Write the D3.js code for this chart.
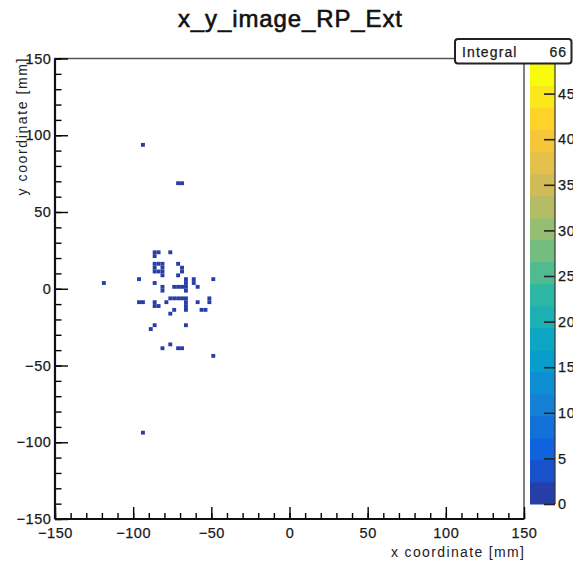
<!DOCTYPE html>
<html><head><meta charset="utf-8">
<script src="https://cdn.jsdelivr.net/npm/d3@7"></script>
<style>
body{margin:0;background:#fff}
svg{display:block}
text{font-family:"Liberation Sans",Arial,Helvetica,sans-serif}
</style>
</head><body>
<svg id="c" width="573" height="565"></svg>
<script>
// ---- data ----
const chartTitle = "x_y_image_RP_Ext";
const xTitle = "x coordinate [mm]";
const yTitle = "y coordinate [mm]";
const binWidth = 2.5;               // mm, 120 bins over [-150,150]
const axisRange = [-150, 150];
const majorTicks = [-150, -100, -50, 0, 50, 100, 150];
const minorTicks = d3.range(-150, 151, 10);
const zTicks = [0, 5, 10, 15, 20, 25, 30, 35, 40, 45];
const zMax = 48.3;
const nContours = 20;
const statsLabel = "Integral";
const statsValue = "66";

// bin centres (mm) of the filled cells
const cellX = [-86.25,-83.75,-86.25,-76.25,
  -86.25,-83.75,-81.25,-86.25,-81.25,-86.25,-83.75,-81.25,-81.25,
  -71.25,-68.75,-68.75,-71.25,
  -118.75,-96.25,
  -86.25,-81.25,-81.25,
  -66.25,-66.25,-73.75,-71.25,-68.75,-66.25,-66.25,
  -61.25,-61.25,-58.75,-48.75,
  -96.25,-93.75,
  -86.25,-86.25,-83.75,-78.75,
  -76.25,-73.75,-71.25,-68.75,
  -66.25,-66.25,-66.25,-66.25,
  -58.75,-51.25,-51.25,-56.25,-53.75,
  -73.75,-76.25,-86.25,-88.75,-66.25,
  -81.25,-76.25,-71.25,-68.75,-48.75,
  -93.75,-71.25,-68.75,-93.75];
const cellY = [23.75,23.75,21.25,23.75,
  16.25,16.25,16.25,13.75,13.75,11.25,11.25,11.25,8.75,
  16.25,13.75,11.25,8.75,
  3.75,6.25,
  3.75,1.25,-1.25,
  6.25,3.75,1.25,1.25,1.25,1.25,-1.25,
  6.25,3.75,1.25,6.25,
  -8.75,-8.75,
  -8.75,-11.25,-11.25,-8.75,
  -6.25,-6.25,-6.25,-6.25,
  -6.25,-8.75,-11.25,-13.75,
  -8.75,-6.25,-8.75,-13.75,-13.75,
  -13.75,-16.25,-23.75,-26.25,-23.75,
  -38.75,-36.25,-38.75,-38.75,-43.75,
  93.75,68.75,68.75,-93.75];
const cellCount = cellX.map(() => 1);

// ---- kBird palette (ROOT) ----
const pStops = [0, .125, .25, .375, .5, .625, .75, .875, 1];
const pR = [0.2082,0.0592,0.0780,0.0232,0.1802,0.5301,0.8186,0.9956,0.9764];
const pG = [0.1664,0.3599,0.5041,0.6419,0.7178,0.7492,0.7328,0.7862,0.9832];
const pB = [0.5293,0.8684,0.8385,0.7914,0.6425,0.4662,0.3499,0.1968,0.0539];
const palR = d3.scaleLinear(pStops, pR), palG = d3.scaleLinear(pStops, pG), palB = d3.scaleLinear(pStops, pB);
function bandColor(i){
  const idx = Math.floor((i + 0.99) * 255 / nContours);
  const t = Math.min(1, idx / 254);
  return d3.rgb(palR(t)*255, palG(t)*255, palB(t)*255).formatHex();
}
function valueColor(v){
  let i = Math.floor(v / zMax * nContours);
  i = Math.max(0, Math.min(nContours - 1, i));
  return bandColor(i);
}

// ---- layout ----
const svg = d3.select("#c");
const X0 = 55, X1 = 524, Y0 = 519, Y1 = 58.5;
const xs = d3.scaleLinear(axisRange, [X0, X1]);
const ys = d3.scaleLinear(axisRange, [Y0, Y1]);
const fontF = '"Liberation Sans",Arial,Helvetica,sans-serif';

// cells
svg.append("g").selectAll("rect").data(cellX.map((x,i)=>({x, y: cellY[i], c: cellCount[i]})))
  .join("rect")
  .attr("x", d => xs(d.x - binWidth/2))
  .attr("width", d => xs(d.x + binWidth/2) - xs(d.x - binWidth/2))
  .attr("y", d => ys(d.y + binWidth/2))
  .attr("height", d => ys(d.y - binWidth/2) - ys(d.y + binWidth/2))
  .attr("fill", d => valueColor(d.c));

// frame
svg.append("rect").attr("x", X0).attr("y", Y1).attr("width", X1 - X0).attr("height", Y0 - Y1)
  .attr("fill", "none").attr("stroke", "#555").attr("stroke-width", 1.5);

function styleAxis(g, size){
  g.select(".domain").remove();
  g.selectAll("line").attr("stroke", "#000").attr("stroke-width", 1.4);
  g.attr("font-family", fontF).attr("font-size", size);
  g.selectAll("text").attr("fill", "#1a1a1a").attr("letter-spacing", "0.6px")
    .attr("stroke", "#1a1a1a").attr("stroke-width", 0.25);
}
const fmt = d => d < 0 ? "\u2212" + Math.abs(d) : String(d);

// x axis
const gxm = svg.append("g").attr("transform", `translate(0,${Y0})`)
  .call(d3.axisBottom(xs).tickValues(minorTicks).tickSize(-6).tickFormat(""));
styleAxis(gxm, 14);
const gx = svg.append("g").attr("transform", `translate(0,${Y0})`)
  .call(d3.axisBottom(xs).tickValues(majorTicks).tickSize(-12).tickPadding(8.5).tickFormat(fmt));
styleAxis(gx, 14.5);

// y axis
const gym = svg.append("g").attr("transform", `translate(${X0},0)`)
  .call(d3.axisLeft(ys).tickValues(minorTicks).tickSize(-6.5).tickFormat(""));
styleAxis(gym, 14);
const gy = svg.append("g").attr("transform", `translate(${X0},0)`)
  .call(d3.axisLeft(ys).tickValues(majorTicks).tickSize(-13).tickPadding(3.5).tickFormat(fmt));
styleAxis(gy, 14.5);

// axis lines
svg.append("line").attr("x1", X0).attr("x2", X0).attr("y1", Y1).attr("y2", Y0)
  .attr("stroke", "#111").attr("stroke-width", 2.2);
svg.append("line").attr("x1", X0).attr("x2", X1).attr("y1", Y0).attr("y2", Y0)
  .attr("stroke", "#111").attr("stroke-width", 2.2);

// axis titles
svg.append("text").attr("x", X1).attr("y", 557).attr("text-anchor", "end")
  .attr("font-size", 14).attr("fill", "#222").attr("textLength", 133).attr("lengthAdjust", "spacing")
  .text(xTitle);
svg.append("text").attr("transform", `translate(27,${Y1}) rotate(-90)`).attr("text-anchor", "end")
  .attr("font-size", 14).attr("fill", "#222").attr("textLength", 137).attr("lengthAdjust", "spacing")
  .text(yTitle);

// title
svg.append("text").attr("x", 290).attr("y", 27).attr("text-anchor", "middle")
  .attr("font-size", 24).attr("fill", "#111").attr("stroke", "#111").attr("stroke-width", 0.6)
  .attr("textLength", 224).attr("lengthAdjust", "spacing").text(chartTitle);

// colour bar
const CB0 = 530, CB1 = 555, ZB = 504, ZT = 63.5;
const zs = d3.scaleLinear([0, zMax], [ZB, ZT]);
svg.append("g").selectAll("rect").data(d3.range(nContours)).join("rect")
  .attr("x", CB0).attr("width", CB1 - CB0)
  .attr("y", i => zs((i + 1) * zMax / nContours))
  .attr("height", i => zs(i * zMax / nContours) - zs((i + 1) * zMax / nContours) + 0.5)
  .attr("fill", i => bandColor(i));
const gz = svg.append("g").attr("transform", `translate(${CB1},0)`)
  .call(d3.axisRight(zs).tickValues(zTicks).tickSize(-11).tickPadding(3).tickFormat(d => String(d)));
styleAxis(gz, 14.5);
gz.selectAll("line").attr("stroke", "#222").attr("stroke-width", 1.6);
svg.append("line").attr("x1", CB1).attr("x2", CB1).attr("y1", ZT).attr("y2", ZB)
  .attr("stroke", "#333").attr("stroke-width", 1.2);

// stats box
svg.append("rect").attr("x", 455).attr("y", 39).attr("width", 116.5).attr("height", 24.5)
  .attr("rx", 3).attr("fill", "#fff").attr("stroke", "#222").attr("stroke-width", 2);
svg.append("text").attr("x", 462).attr("y", 56.5).attr("font-size", 14).attr("fill", "#1a1a1a")
  .attr("stroke", "#1a1a1a").attr("stroke-width", 0.25)
  .attr("letter-spacing", "1.1px").text(statsLabel);
svg.append("text").attr("x", 567).attr("y", 56.5).attr("text-anchor", "end").attr("font-size", 14)
  .attr("fill", "#1a1a1a").attr("stroke", "#1a1a1a").attr("stroke-width", 0.25)
  .attr("letter-spacing", "1px").text(statsValue);
</script>
</body></html>
